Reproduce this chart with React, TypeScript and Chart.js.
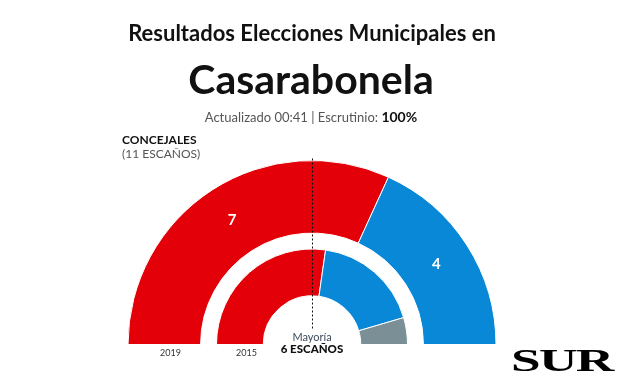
import React, { useEffect, useRef } from "react";
import { Chart, registerables } from "chart.js";

Chart.register(...registerables);

const parties = ["PSOE", "PP", "Otros"];
const seats2019 = [7, 4];
const seats2015 = [6, 4, 1];
const colors2019 = ["#e30008", "#0a88d8"];
const colors2015 = ["#e30008", "#0a88d8", "#7b8f96"];
const yearLabels = ["2019", "2015"];
const totalSeats = 11;
const majority = 6;

const FONT = "Lato, 'Open Sans', sans-serif";

const overlayPlugin = {
  id: "overlay",
  afterDatasetsDraw(chart: any) {
    const ctx = chart.ctx;
    const meta = chart.getDatasetMeta(0);
    ctx.save();
    ctx.fillStyle = "#ffffff";
    ctx.font = `bold 15px ${FONT}`;
    ctx.textAlign = "center";
    ctx.textBaseline = "middle";
    meta.data.forEach((arc: any, i: number) => {
      const p = arc.tooltipPosition();
      ctx.fillText(String(seats2019[i]), p.x, p.y);
    });
    const a0 = meta.data[0];
    const cx = Math.round(a0.x) + 0.5;
    ctx.strokeStyle = "#111";
    ctx.lineWidth = 1;
    ctx.setLineDash([2, 2]);
    ctx.beginPath();
    ctx.moveTo(cx, a0.y - a0.outerRadius - 2);
    ctx.lineTo(cx, a0.y - 16);
    ctx.stroke();
    ctx.restore();
  },
};

export default function App() {
  const ref = useRef<HTMLCanvasElement>(null);
  useEffect(() => {
    if (!ref.current) return;
    const chart = new Chart(ref.current, {
      type: "doughnut",
      data: {
        labels: parties,
        datasets: [
          { data: seats2019, backgroundColor: colors2019, borderColor: "#fff", borderWidth: 1, weight: 73 } as any,
          { data: [totalSeats], backgroundColor: ["rgba(0,0,0,0)"], borderWidth: 0, weight: 16 } as any,
          { data: seats2015, backgroundColor: colors2015, borderColor: "#fff", borderWidth: 1, weight: 47 } as any,
        ],
      },
      options: {
        responsive: false,
        animation: false,
        rotation: -90,
        circumference: 180,
        cutout: "26.5%",
        layout: { padding: { left: 127, right: 127, top: 160, bottom: 40 } },
        plugins: { legend: { display: false }, tooltip: { enabled: false } },
        events: [],
      } as any,
      plugins: [overlayPlugin],
    });
    return () => chart.destroy();
  }, []);

  const abs = (s: React.CSSProperties): React.CSSProperties => ({ position: "absolute", whiteSpace: "nowrap", fontFamily: FONT, ...s });

  return (
    <div style={{ position: "absolute", left: 0, top: 0, width: 624, height: 385, background: "#fff", overflow: "hidden" }}>
      <canvas ref={ref} width={624} height={385} style={{ position: "absolute", left: 0, top: 0, width: 624, height: 385 }} />
      <div style={abs({ left: 0, width: 624, top: 19, textAlign: "center", fontSize: 22, fontWeight: 700, color: "#111", lineHeight: "28px" })}>
        Resultados Elecciones Municipales en
      </div>
      <div style={abs({ left: 0, width: 622, top: 54, textAlign: "center", fontSize: 41, fontWeight: 700, color: "#111" })}>
        Casarabonela
      </div>
      <div style={abs({ left: 0, width: 622, top: 108, textAlign: "center", fontSize: 13, color: "#555" })}>
        Actualizado 00:41 | Escrutinio: <b style={{ color: "#111", fontSize: 14 }}>100%</b>
      </div>
      <div style={abs({ left: 122, top: 133, fontSize: 12, fontWeight: 700, color: "#111", lineHeight: "14px" })}>CONCEJALES</div>
      <div style={abs({ left: 122, top: 147, fontSize: 12, color: "#555", lineHeight: "14px" })}>({totalSeats} ESCAÑOS)</div>
      <div style={abs({ left: 160, top: 347, fontSize: 9, color: "#333" })}>{yearLabels[0]}</div>
      <div style={abs({ left: 236, top: 347, fontSize: 9, color: "#333" })}>{yearLabels[1]}</div>
      <div style={abs({ left: 262, width: 100, top: 330, textAlign: "center", fontSize: 11, color: "#3d4c5c", lineHeight: "13px" })}>Mayoría</div>
      <div style={abs({ left: 262, width: 100, top: 342, textAlign: "center", fontSize: 11.5, fontWeight: 900, color: "#111", lineHeight: "13px" })}>{majority} ESCAÑOS</div>
      <div style={abs({ left: 511, top: 344, fontSize: 31, fontWeight: 700, fontFamily: "'Liberation Serif', 'DejaVu Serif', serif", color: "#000", transform: "scaleX(1.72)", transformOrigin: "left top", lineHeight: "34px", letterSpacing: -1 })}>SUR</div>
    </div>
  );
}
